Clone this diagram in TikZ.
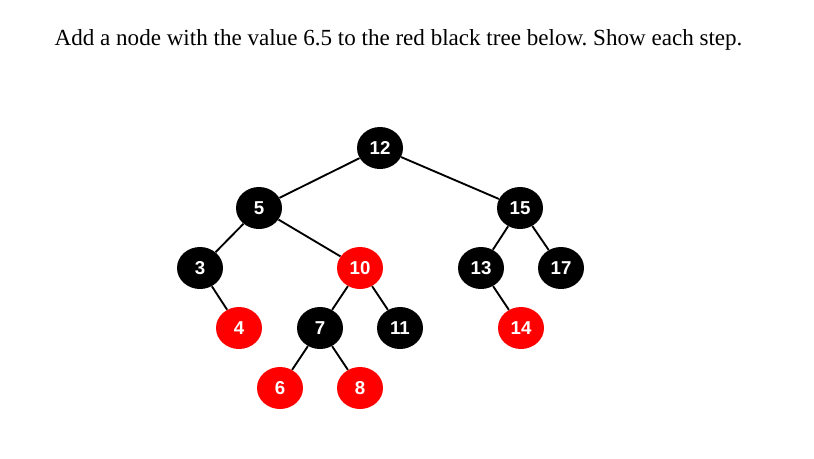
\documentclass[tikz,border=0pt]{standalone}
\usepackage{fontspec}
\setmainfont{Liberation Serif}
\newfontfamily\keyfont{Liberation Sans}
\usetikzlibrary{shapes.geometric,positioning}
\definecolor{rbRed}{HTML}{FF0000}
\frenchspacing

\begin{document}
\begin{tikzpicture}[
    x=0.75pt, y=-0.75pt,
    rbnode/.style={ellipse, minimum width=34.5pt, minimum height=31.5pt, inner sep=0pt,
                   font=\keyfont\bfseries\fontsize{14}{16}\selectfont, text=white},
    blk/.style={rbnode, fill=black},
    rd/.style={rbnode, fill=rbRed},
    link/.style={line width=1.4pt, black}
]
    \useasboundingbox (0,0) rectangle (814,458);
    \node[anchor=west, font=\fontsize{17.3}{20}\selectfont] (title) at (50,40)
        {Add a node with the value 6.5 to the red black tree below. Show each step.};

    % level 0 and 1
    \node[blk] (n12) at (380,148) {12};
    \node[blk] (n5)  at (259,208) {5};
    \node[blk] (n15) at (520,208) {15};
    % level 2
    \node[blk] (n3)  at (200,268) {3};
    \node[rd]  (n10) at (360,268) {10};
    \node[blk] (n13) at (481,268) {13};
    \node[blk] (n17) at (561,268) {17};
    % level 3
    \node[rd]  (n4)  at (239,328) {4};
    \node[blk] (n7)  at (320,328) {7};
    \node[blk] (n11) at (400,328) {11};
    \node[rd]  (n14) at (521,328) {14};
    % level 4
    \node[rd]  (n6)  at (280,388) {6};
    \node[rd]  (n8)  at (360,388) {8};

    \draw[link] (n12) -- (n5);
    \draw[link] (n12) -- (n15);
    \draw[link] (n5) -- (n3);
    \draw[link] (n5) -- (n10);
    \draw[link] (n15) -- (n13);
    \draw[link] (n15) -- (n17);
    \draw[link] (n3) -- (n4);
    \draw[link] (n10) -- (n7);
    \draw[link] (n10) -- (n11);
    \draw[link] (n13) -- (n14);
    \draw[link] (n7) -- (n6);
    \draw[link] (n7) -- (n8);
\end{tikzpicture}
\end{document}
